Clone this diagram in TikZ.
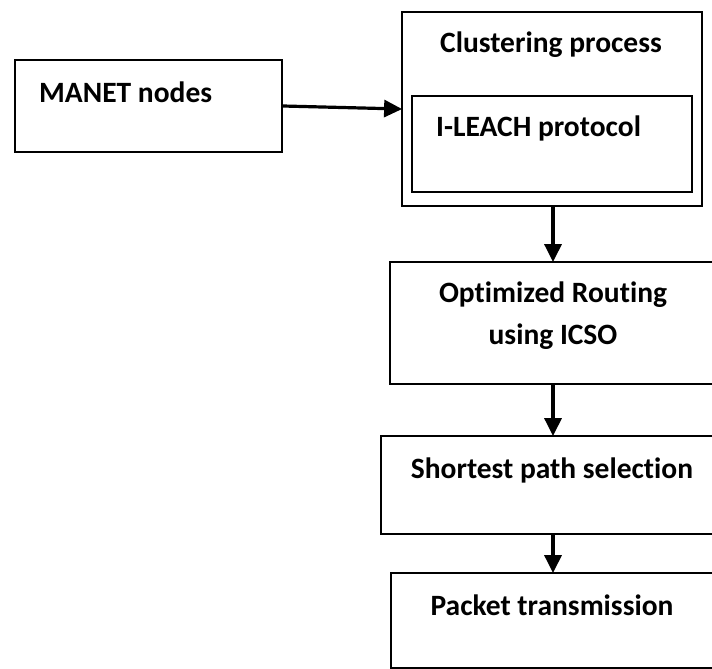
\documentclass[tikz,border=0pt]{standalone}
\usepackage{fontspec}
\setmainfont[Ligatures={NoCommon}]{Carlito}
\usetikzlibrary{arrows.meta}
\begin{document}
\begin{tikzpicture}[x=1pt,y=-1pt,
  box/.style={draw=black, line width=1.8pt, rectangle, inner sep=0pt},
  lbl/.style={font=\fontsize{29.5}{35}\selectfont\bfseries, inner sep=0pt, align=center},
  arr/.style={line width=3.2pt, -{Triangle[length=18pt,width=17pt]}, shorten >=-1pt}]
\useasboundingbox (0,0) rectangle (712,669);
\clip (0,0) rectangle (712,669);
\node[box, minimum width=267pt, minimum height=92pt] (manet) at (148.5,106) {};
\node[lbl, anchor=west] (manett) at (39,92) {MANET nodes};
\node[box, minimum width=300pt, minimum height=194pt] (outer) at (552,109) {};
\node[lbl] (clust) at (551,45) {Clustering process};
\node[box, minimum width=280pt, minimum height=96pt] (inner) at (552,144) {};
\node[lbl, anchor=west] (leach) at (436,128) {I-LEACH protocol};
\node[box, minimum width=326pt, minimum height=122pt] (opt) at (553,323) {};
\node[lbl] (optt) at (553,316) {Optimized Routing\\[7pt]using ICSO};
\node[box, minimum width=335pt, minimum height=98pt] (short) at (548.5,485) {};
\node[lbl] (shortt) at (552,470) {Shortest path selection};
\node[box, minimum width=325pt, minimum height=95pt] (pack) at (553.5,620.5) {};
\node[lbl] (packt) at (552,605) {Packet transmission};
\draw[arr] (manet.east) -- (outer.west);
\draw[arr] (outer.south -| opt.north) -- (opt.north);
\draw[arr] (opt.south) -- (opt.south |- short.north);
\draw[arr] (short.south -| opt.south) -- (opt.south |- pack.north);
\end{tikzpicture}
\end{document}
